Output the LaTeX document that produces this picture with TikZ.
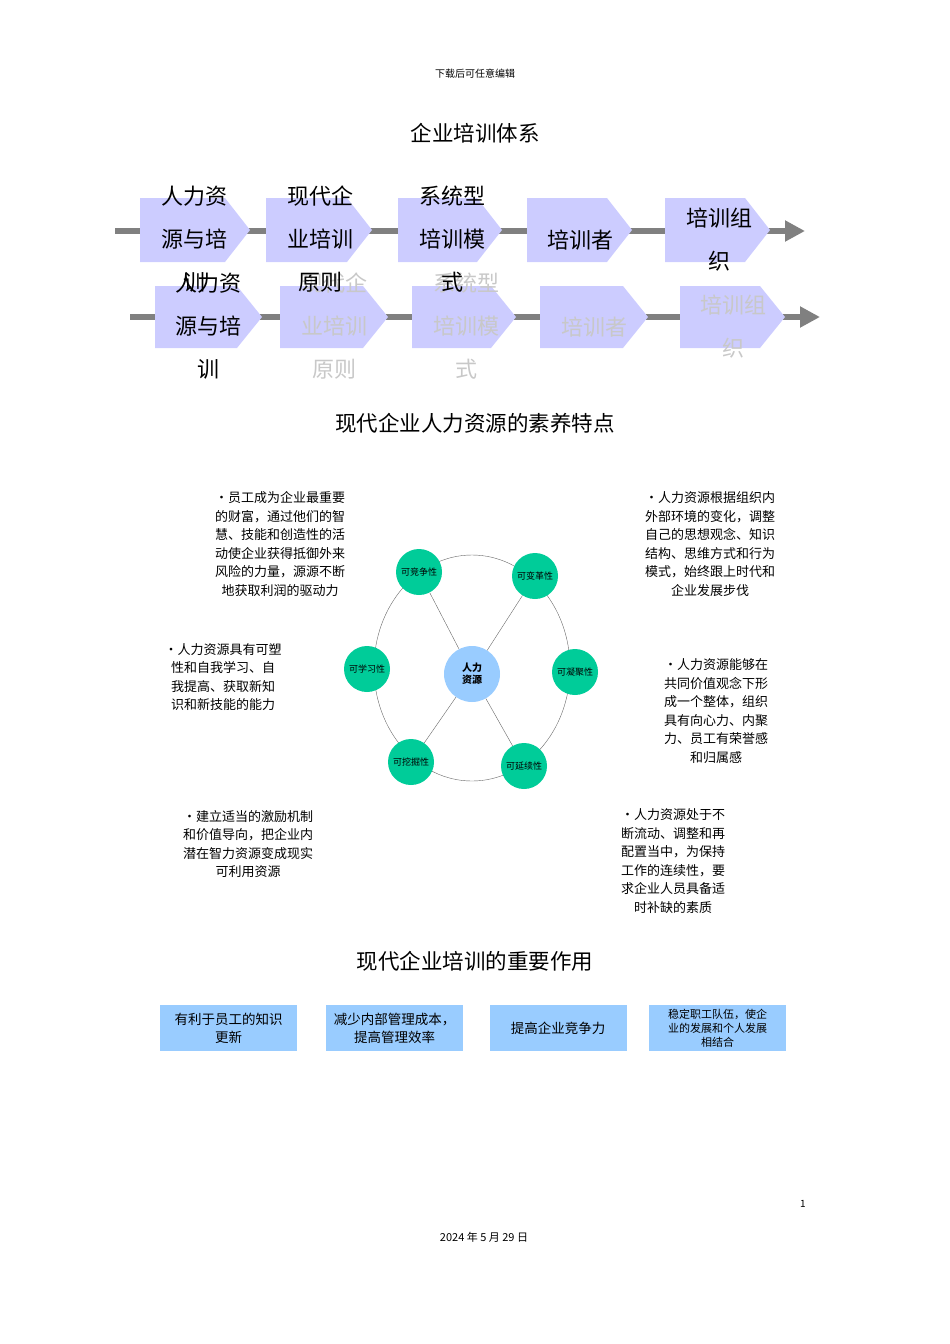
\documentclass[tikz,border=0pt]{standalone}
\usepackage{fontspec}
\setmainfont{Noto Sans CJK SC}
\usetikzlibrary{arrows.meta}
\definecolor{pent}{RGB}{204,204,255}
\definecolor{bar}{RGB}{128,128,128}
\definecolor{grn}{RGB}{0,204,153}
\definecolor{lb}{RGB}{153,204,255}
\definecolor{ghost}{RGB}{200,200,200}
\tikzset{
 bigt/.style={font=\fontsize{22}{43}\selectfont,align=center,inner sep=0},
 para/.style={font=\fontsize{13}{18.6}\selectfont,align=center,inner sep=0},
 small/.style={circle,fill=grn,minimum size=46pt,inner sep=0,font=\fontsize{9}{10}\selectfont},
 bbox/.style={fill=lb,minimum width=137pt,minimum height=46pt,inner sep=1pt,align=center,font=\fontsize{13.5}{18}\selectfont},
 bbox2/.style={bbox,font=\fontsize{11}{14}\selectfont},
 flow/.style={draw=bar,line width=6pt},
 head/.style={font=\fontsize{21.5}{24}\selectfont,inner sep=0},
}
\newcommand{\pent}[4]{\fill[pent] (#1,#3)--(#2-25,#3)--(#2,#3/2+#4/2)--(#2-25,#4)--(#1,#4)--cycle;}
\begin{document}
\begin{tikzpicture}[x=1pt,y=-1pt]
\useasboundingbox (0,0) rectangle (950,1344);
\node[font=\fontsize{10}{12}\selectfont] (dl) at (475,74) {下载后可任意编辑};
\node[head] (h1) at (475,133) {企业培训体系};
% row 1
\coordinate (r1s) at (115,231); \coordinate (r1e) at (805,231);
\draw[flow,-{Triangle[length=20pt,width=20pt]}] (r1s) -- (r1e);
\pent{140}{250}{198}{262}\pent{266}{372}{198}{262}\pent{398}{502}{198}{262}\pent{527}{632}{198}{262}\pent{665}{770}{198}{262}
% row 2
\coordinate (r2s) at (130,317); \coordinate (r2e) at (820,317);
\draw[flow,-{Triangle[length=20pt,width=20pt]}] (r2s) -- (r2e);
\pent{155}{262}{286}{348}\pent{280}{388}{286}{348}\pent{412}{516}{286}{348}\pent{540}{648}{286}{348}\pent{680}{785}{286}{348}
% row 2 texts
\node[bigt,anchor=north] (b1) at (208,273) {人力资\\源与培\\训};
\node[bigt,anchor=north,text=ghost] (b2) at (334,273) {现代企\\业培训\\原则};
\node[bigt,anchor=north,text=ghost] (b3) at (466,273) {系统型\\培训模\\式};
\node[bigt,text=ghost] (b4) at (594,327) {培训者};
\node[bigt,anchor=north,text=ghost] (b5) at (733,295) {培训组\\织};
% row 1 texts
\node[bigt,anchor=north] (a1) at (194,186) {人力资\\源与培\\训};
\node[bigt,anchor=north] (a2) at (320,186) {现代企\\业培训\\原则};
\node[bigt,anchor=north] (a3) at (452,186) {系统型\\培训模\\式};
\node[bigt] (a4) at (580,240) {培训者};
\node[bigt,anchor=north] (a5) at (719,208) {培训组\\织};
\node[head] (h2) at (475,423) {现代企业人力资源的素养特点};
% wheel
\draw[bar!80!black,thin] (472,668) ellipse (98 and 113);
\node[circle,fill=lb,minimum size=56pt,inner sep=0,font=\fontsize{10}{12}\selectfont\bfseries,align=center] (c) at (472,674) {人力\\资源};
\node[small] (s1) at (419,572) {可竞争性};
\node[small] (s2) at (535,576) {可变革性};
\node[small] (s3) at (367,669) {可学习性};
\node[small] (s4) at (575,672) {可凝聚性};
\node[small] (s5) at (411,762) {可挖掘性};
\node[small] (s6) at (524,766) {可延续性};
\foreach \s in {s1,s2,s5,s6} \draw[thin,bar!80!black] (c) -- (\s);
% paragraphs
\node[para] (p1) at (280,544) {•员工成为企业最重要\\的财富，通过他们的智\\慧、技能和创造性的活\\动使企业获得抵御外来\\风险的力量，源源不断\\地获取利润的驱动力};
\node[para] (p2) at (710,544) {•人力资源根据组织内\\外部环境的变化，调整\\自己的思想观念、知识\\结构、思维方式和行为\\模式，始终跟上时代和\\企业发展步伐};
\node[para] (p3) at (223,677) {•人力资源具有可塑\\性和自我学习、自\\我提高、获取新知\\识和新技能的能力};
\node[para] (p4) at (716,711) {•人力资源能够在\\共同价值观念下形\\成一个整体，组织\\具有向心力、内聚\\力、员工有荣誉感\\和归属感};
\node[para] (p5) at (248,844) {•建立适当的激励机制\\和价值导向，把企业内\\潜在智力资源变成现实\\可利用资源};
\node[para] (p6) at (673,861) {•人力资源处于不\\断流动、调整和再\\配置当中，为保持\\工作的连续性，要\\求企业人员具备适\\时补缺的素质};
\node[head] (h3) at (475,961) {现代企业培训的重要作用};
\node[bbox] (d1) at (228.5,1028) {有利于员工的知识\\更新};
\node[bbox] (d2) at (394.5,1028) {减少内部管理成本，\\提高管理效率};
\node[bbox] (d3) at (558,1028) {提高企业竞争力};
\node[bbox2] (d4) at (717.5,1028) {稳定职工队伍，使企\\业的发展和个人发展\\相结合};
\node[font=\fontsize{10}{12}\selectfont] (pg) at (803,1204) {1};
\node[font=\fontsize{11}{13}\selectfont] (dt) at (484,1237) {2024 年 5 月 29 日};
\end{tikzpicture}
\end{document}
